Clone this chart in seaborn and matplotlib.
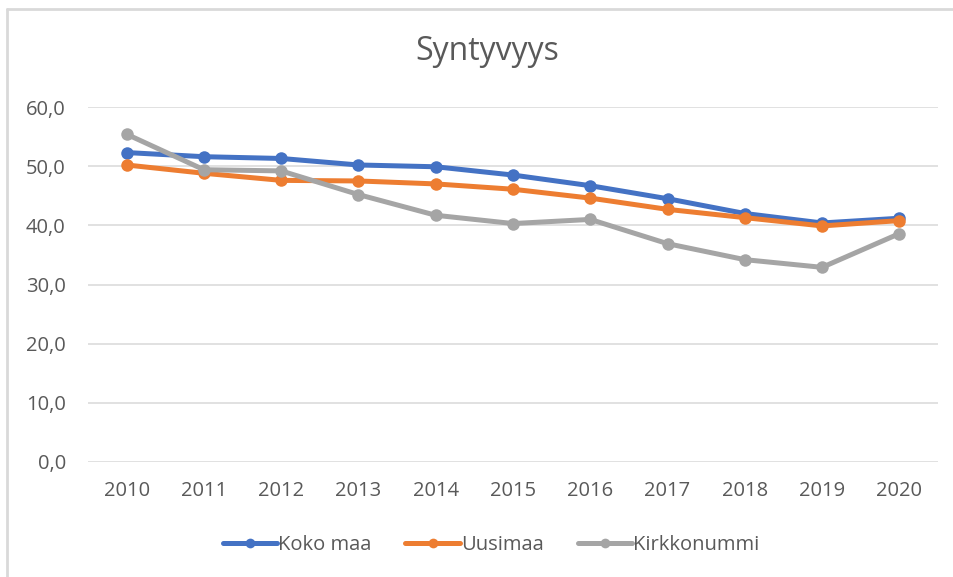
import pandas as pd
import seaborn as sns
import matplotlib.pyplot as plt
from matplotlib.lines import Line2D
from matplotlib.ticker import FuncFormatter

# Data
years = [2010, 2011, 2012, 2013, 2014, 2015, 2016, 2017, 2018, 2019, 2020]
koko_maa = [52.3, 51.6, 51.3, 50.2, 49.9, 48.5, 46.7, 44.5, 42.0, 40.4, 41.2]
uusimaa = [50.2, 48.8, 47.6, 47.5, 47.0, 46.1, 44.6, 42.7, 41.3, 39.9, 40.8]
kirkkonummi = [55.4, 49.4, 49.2, 45.2, 41.7, 40.3, 41.0, 36.9, 34.2, 32.9, 38.6]

series_names = ["Koko maa", "Uusimaa", "Kirkkonummi"]
colors = ["#4472C4", "#ED7D31", "#A5A5A5"]

df = pd.DataFrame({
    "Vuosi": years * 3,
    "Arvo": koko_maa + uusimaa + kirkkonummi,
    "Alue": [n for n in series_names for _ in years],
})

sns.set_style("white")
plt.rcParams["font.family"] = ["Open Sans", "DejaVu Sans"]

fig = plt.figure(figsize=(9.54, 5.77), dpi=100)
ax = fig.add_axes([88 / 954, 1 - 462 / 577, 850 / 954, 355 / 577])

sns.lineplot(data=df, x="Vuosi", y="Arvo", hue="Alue", palette=colors,
             marker="o", markersize=9, markeredgewidth=0, linewidth=3.6,
             legend=False, ax=ax)

ax.set_xlim(2009.5, 2020.5)
ax.set_ylim(0, 60)
ax.set_xticks(years)
ax.set_yticks(range(0, 61, 10))
ax.yaxis.set_major_formatter(FuncFormatter(lambda v, p: f"{v:.1f}".replace(".", ",")))
ax.grid(axis="y", color="#D9D9D9", linewidth=1.1)
ax.set_axisbelow(True)
for s in ax.spines.values():
    s.set_visible(False)
ax.tick_params(axis="y", length=0, pad=16, labelsize=14.5, labelcolor="#595959")
ax.tick_params(axis="x", length=0, pad=14, labelsize=14.5, labelcolor="#595959")
ax.set_xlabel("")
ax.set_ylabel("")

fig.text(487 / 954, 1 - 52 / 577, "Syntyvyys", ha="center", va="center",
         fontsize=23, color="#595959")

handles = [Line2D([], [], color=c, linewidth=3.6, marker="o", markersize=7,
                  markeredgewidth=0) for c in colors]
fig.legend(handles, series_names, loc="center", bbox_to_anchor=(491 / 954, 1 - 545 / 577),
           ncol=3, frameon=False, fontsize=14.5, labelcolor="#595959",
           handlelength=2.7, handletextpad=0.05, columnspacing=1.7)

# light outer border like the chart area frame
fig.add_artist(Line2D([7 / 954, 7 / 954], [0, 1 - 9 / 577], color="#D9D9D9",
                      linewidth=2, transform=fig.transFigure))
fig.add_artist(Line2D([7 / 954, 1], [1 - 9 / 577, 1 - 9 / 577], color="#D9D9D9",
                      linewidth=2, transform=fig.transFigure))

fig.savefig("out.png", dpi=100, facecolor="white")
